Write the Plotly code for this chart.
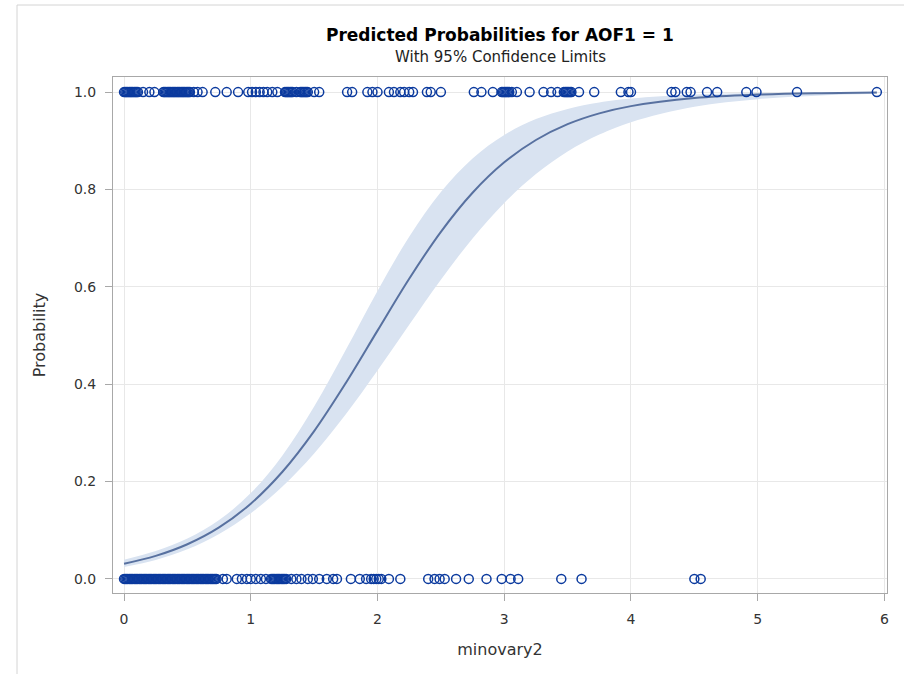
import plotly.graph_objects as go

# Observed outcomes: minovary2 values where AOF1 = 1 and AOF1 = 0
x_event = [0.00, 0.01, 0.02, 0.03, 0.04, 0.05, 0.06, 0.07, 0.08, 0.09, 0.10, 0.11,
           0.15, 0.20, 0.24,
           0.31, 0.32, 0.33, 0.34, 0.35, 0.36, 0.37, 0.38, 0.39, 0.40, 0.41, 0.42,
           0.43, 0.44, 0.45, 0.46, 0.47, 0.48, 0.49, 0.50, 0.51, 0.52,
           0.55, 0.58, 0.62, 0.72, 0.81, 0.90,
           0.98, 1.01, 1.04, 1.07, 1.10, 1.13,
           1.17, 1.21, 1.27, 1.28, 1.29, 1.30, 1.31, 1.32, 1.33, 1.36,
           1.39, 1.40, 1.41, 1.42, 1.43, 1.44, 1.45, 1.50, 1.54,
           1.76, 1.80, 1.92, 1.96, 2.00,
           2.09, 2.13, 2.18, 2.21, 2.25, 2.28, 2.39, 2.42, 2.50,
           2.76, 2.82, 2.91, 2.98, 2.99, 3.00, 3.01, 3.02, 3.03, 3.04, 3.06, 3.10, 3.20,
           3.31, 3.37, 3.42, 3.47, 3.48, 3.49, 3.50, 3.51, 3.52, 3.53, 3.59, 3.71,
           3.92, 3.98, 4.00, 4.32, 4.35, 4.44, 4.47, 4.60, 4.68, 4.91, 4.99, 5.31, 5.94]

x_nonevent = [0.00, 0.01, 0.02, 0.03, 0.04, 0.05, 0.06, 0.07, 0.08, 0.09, 0.10, 0.11,
              0.12, 0.13, 0.14, 0.15, 0.16, 0.17, 0.18, 0.19, 0.20, 0.21, 0.22, 0.23,
              0.24, 0.25, 0.26, 0.27, 0.28, 0.29, 0.30, 0.31, 0.32, 0.33, 0.34, 0.35,
              0.36, 0.37, 0.38, 0.39, 0.40, 0.41, 0.42, 0.43, 0.44, 0.45, 0.46, 0.47,
              0.48, 0.49, 0.50, 0.51, 0.52, 0.53, 0.54, 0.55, 0.56, 0.57, 0.58, 0.59,
              0.60, 0.61, 0.62, 0.63, 0.64, 0.65, 0.66, 0.67, 0.68, 0.69, 0.70, 0.71, 0.72,
              0.73, 0.78, 0.81,
              0.89, 0.93, 0.97, 1.00, 1.04, 1.08, 1.12, 1.16,
              1.17, 1.18, 1.19, 1.20, 1.21, 1.22, 1.23, 1.24, 1.25, 1.26, 1.27, 1.28,
              1.32, 1.36, 1.40, 1.45, 1.49, 1.54, 1.60, 1.65, 1.68,
              1.79, 1.86, 1.91, 1.95, 1.97, 1.99, 2.01, 2.03, 2.09, 2.18,
              2.40, 2.45, 2.49, 2.53, 2.62, 2.72, 2.86, 2.98, 3.05, 3.11,
              3.45, 3.61, 4.50, 4.55]

# Fitted probability with 95% confidence limits
x_fit = [0.0, 0.25, 0.5, 0.75, 1.0, 1.25, 1.5, 1.75, 2.0, 2.25, 2.5, 2.75,
         3.0, 3.25, 3.5, 3.75, 4.0, 4.5, 5.0, 5.5, 5.94]
p_fit = [0.0311, 0.0472, 0.0711, 0.1057, 0.1545, 0.2201, 0.3036, 0.4025, 0.5100, 0.6166,
         0.7130, 0.7933, 0.8557, 0.9016, 0.9341, 0.9563, 0.9712, 0.9877, 0.9948, 0.9978, 0.9990]
p_lower = [0.0244, 0.0389, 0.0608, 0.0924, 0.1349, 0.1898, 0.2577, 0.3381, 0.4280, 0.5222,
           0.6147, 0.6993, 0.7722, 0.8315, 0.8778, 0.9127, 0.9383, 0.9699, 0.9855, 0.9931, 0.9964]
p_upper = [0.0394, 0.0572, 0.0829, 0.1208, 0.1762, 0.2537, 0.3539, 0.4705, 0.5915, 0.7029,
           0.7946, 0.8637, 0.9120, 0.9445, 0.9654, 0.9786, 0.9868, 0.9951, 0.9982, 0.9993, 0.9997]

y_ticks = [0.0, 0.2, 0.4, 0.6, 0.8, 1.0]
x_ticks = [0, 1, 2, 3, 4, 5, 6]

MARK = "#0b3a9e"
LINE = "#5871a0"
BAND = "#d9e3f1"
FONT = "DejaVu Sans, Verdana, sans-serif"
TXT = "#333333"

fig = go.Figure()

# confidence band
fig.add_trace(go.Scatter(x=x_fit, y=p_lower, mode="lines", line=dict(width=0, shape="spline"),
                         showlegend=False, hoverinfo="skip"))
fig.add_trace(go.Scatter(x=x_fit, y=p_upper, mode="lines", line=dict(width=0, shape="spline"),
                         fill="tonexty", fillcolor=BAND, showlegend=False, hoverinfo="skip"))
# predicted curve
fig.add_trace(go.Scatter(x=x_fit, y=p_fit, mode="lines",
                         line=dict(color=LINE, width=2, shape="spline"), showlegend=False))
# observed outcomes
obs_marker = dict(symbol="circle-open", size=9, color=MARK, line=dict(width=1.5, color=MARK))
fig.add_trace(go.Scatter(x=x_event, y=[1.0] * len(x_event), mode="markers",
                         marker=obs_marker, showlegend=False))
fig.add_trace(go.Scatter(x=x_nonevent, y=[0.0] * len(x_nonevent), mode="markers",
                         marker=obs_marker, showlegend=False))

axis_common = dict(showgrid=True, gridcolor="#e8e8e8", gridwidth=1, zeroline=False,
                   showline=True, linecolor="#a8a8a8", linewidth=1, mirror=True,
                   ticks="outside", ticklen=7, tickcolor="#a8a8a8",
                   tickfont=dict(family=FONT, size=14, color=TXT))

fig.update_xaxes(range=[-0.087, 6.02], tickvals=x_ticks, ticktext=[str(v) for v in x_ticks],
                 ticklabelstandoff=6,
                 title=dict(text="minovary2", font=dict(family=FONT, size=16, color=TXT),
                            standoff=18),
                 **axis_common)
fig.update_yaxes(range=[-0.029, 1.031], tickvals=y_ticks, ticktext=[f"{v:.1f}" for v in y_ticks],
                 ticklabelstandoff=6,
                 title=dict(text="Probability", font=dict(family=FONT, size=16, color=TXT),
                            standoff=24),
                 **axis_common)

fig.update_layout(
    width=904, height=674,
    margin=dict(l=113, r=17, t=77, b=81),
    paper_bgcolor="white", plot_bgcolor="white",
    font=dict(family=FONT),
    annotations=[
        dict(text="<b>Predicted Probabilities for AOF1 = 1</b>", xref="paper", yref="paper",
             x=0.5, y=(593 - 35) / 516, xanchor="center", yanchor="middle", showarrow=False,
             font=dict(family=FONT, size=17, color="black")),
        dict(text="With 95% Confidence Limits", xref="paper", yref="paper",
             x=0.5, y=(593 - 57) / 516, xanchor="center", yanchor="middle", showarrow=False,
             font=dict(family=FONT, size=15, color="#222222")),
    ],
    shapes=[
        dict(type="line", xref="paper", yref="paper", x0=(17 - 113) / 774, x1=(904 - 113) / 774,
             y0=(593 - 5) / 516, y1=(593 - 5) / 516, line=dict(color="#d4d4d4", width=1)),
        dict(type="line", xref="paper", yref="paper", x0=(17 - 113) / 774, x1=(17 - 113) / 774,
             y0=(593 - 5) / 516, y1=(593 - 680) / 516, line=dict(color="#d4d4d4", width=1)),
    ],
)

fig.write_html("out.html")
